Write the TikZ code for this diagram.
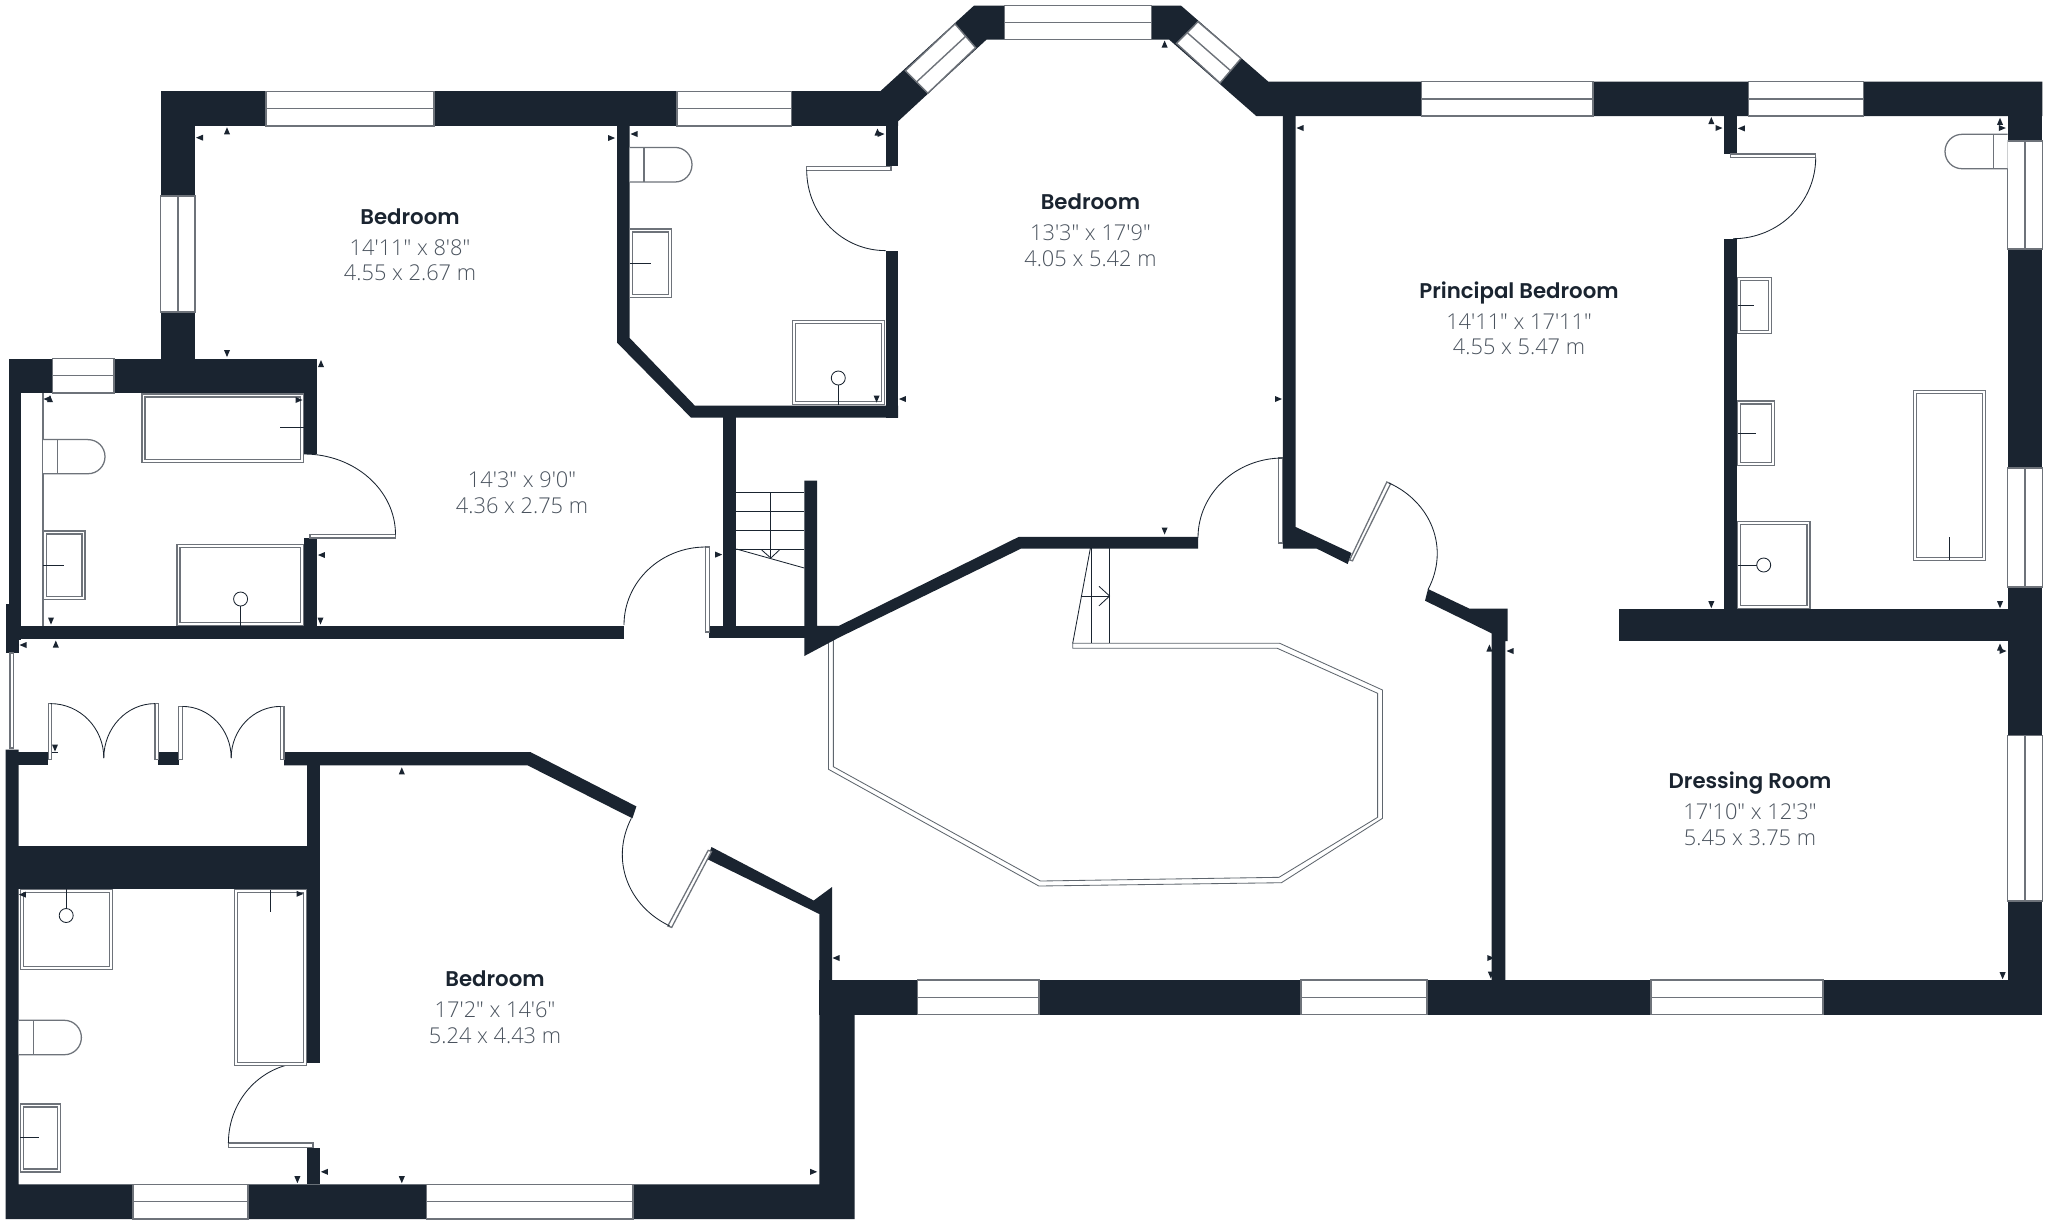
\documentclass[tikz,border=0pt]{standalone}
\usepackage{fontspec}
\newfontfamily\titlef{Poppins}[UprightFont=* SemiBold]
\newfontfamily\dimf{Open Sans}[UprightFont=* Light]
\definecolor{wallc}{HTML}{1A2430}
\definecolor{linec}{HTML}{6E737A}
\definecolor{textg}{HTML}{4A535E}
\tikzset{
  wall/.style={fill=wallc,draw=none},
  glass/.style={fill=white,draw=linec,line width=.4pt},
  glassline/.style={draw=linec,line width=.4pt},
  fixture/.style={fill=white,draw=linec,line width=.36pt},
  thin line/.style={draw=wallc,line width=.24pt},
  mark tri/.style={fill=wallc,draw=none},
  roomname/.style={anchor=base,inner sep=0pt,text=wallc,font=\titlef\fontsize{6.05pt}{7pt}\selectfont},
  roomdim/.style={anchor=base,inner sep=0pt,text=textg,font=\dimf\fontsize{6.2pt}{7pt}\selectfont}
}
% windows
\newcommand{\winh}[4]{\draw[glass] (#1,#2) rectangle (#3,#4); \draw[glassline] (#1,{(#2+#4)/2}) -- (#3,{(#2+#4)/2});}
\newcommand{\winv}[4]{\draw[glass] (#1,#2) rectangle (#3,#4); \draw[glassline] ({(#1+#3)/2},#2) -- ({(#1+#3)/2},#4);}
% double rectangle fixture
\newcommand{\fixt}[4]{\draw[fixture] (#1,#2) rectangle (#3,#4); \draw[fixture] ({#1+3},{#2+3}) rectangle ({#3-3},{#4-3});}
% quarter arc, leaves horizontally, arrives vertically
\newcommand{\qarc}[4]{\draw[thin line] (#1,#2) .. controls ({#1+0.5523*(#3-#1)},#2) and (#3,{#4-0.5523*(#4-#2)}) .. (#3,#4);}
% leaf
\newcommand{\leaf}[4]{\draw[fixture] (#1,#2) rectangle (#3,#4);}
% toilets
\newcommand{\toiletR}[4]{\draw[fixture] (#1,#2) -- ({#3-17},#2) .. controls ({#3-7.5},#2) and (#3,{(#2+#4)/2-9.5}) .. (#3,{(#2+#4)/2}) .. controls (#3,{(#2+#4)/2+9.5}) and ({#3-7.5},#4) .. ({#3-17},#4) -- (#1,#4);}
\newcommand{\toiletL}[4]{\draw[fixture] (#3,#2) -- ({#1+17},#2) .. controls ({#1+7.5},#2) and (#1,{(#2+#4)/2-9.5}) .. (#1,{(#2+#4)/2}) .. controls (#1,{(#2+#4)/2+9.5}) and ({#1+7.5},#4) .. ({#1+17},#4) -- (#3,#4);}
% triangles
\newcommand{\tl}[2]{\fill[mark tri,shift={(#1,#2)}] (3.5,-3) -- (-3.5,0) -- (3.5,3) -- cycle;}
\newcommand{\trr}[2]{\fill[mark tri,shift={(#1,#2)}] (-3.5,-3) -- (3.5,0) -- (-3.5,3) -- cycle;}
\newcommand{\tu}[2]{\fill[mark tri,shift={(#1,#2)}] (-3,3.5) -- (0,-3.5) -- (3,3.5) -- cycle;}
\newcommand{\td}[2]{\fill[mark tri,shift={(#1,#2)}] (-3,-3.5) -- (0,3.5) -- (3,-3.5) -- cycle;}
\begin{document}
\begin{tikzpicture}[x=0.01cm,y=-0.01cm]
\useasboundingbox (0,0) rectangle (2048,1220);
\fill[white] (0,0) rectangle (2048,1220);

% ---------- balustrade and stairs (under the walls)
\draw[thin line,draw=wallc!70] (828.5,640) -- (828.5,769.3) -- (1038.8,886) -- (1281.4,882.7) -- (1382.5,818.3) -- (1382.5,690) -- (1279.8,643.3) -- (1072.7,643.3) -- (1072.7,648.3) -- (1277.3,648.3) -- (1377.6,693.3) -- (1377.6,817.3) -- (1279,877.3) -- (1040.4,881) -- (833.4,766.7) -- (833.4,640);
\draw[thin line] (1090.4,548) -- (1072.7,643.3);
\draw[thin line] (1091.4,548) -- (1091.4,643.3);
\draw[thin line] (1109.6,548) -- (1109.6,643.3);
\draw[thin line] (1080.9,596) -- (1109.6,596);
\draw[thin line] (1099,586.3) -- (1109.6,596) -- (1099,605.8);
\foreach \yy in {492.2,511.3,530,549} \draw[thin line] (736.4,\yy) -- (804.3,\yy);
\draw[thin line] (770.8,492.2) -- (770.8,558);
\draw[thin line] (736.4,549) -- (804.3,568);
\draw[thin line] (761.7,550) -- (770.8,558) -- (779.4,550);

% ---------- walls
\fill[wall] (160.7,91.4) rectangle (885.6,125.8);
\fill[wall] (160.7,91.4) rectangle (195,370);
\fill[wall] (9,358.5) rectangle (317,393);
\fill[wall] (9,358.5) rectangle (21,640);
\fill[wall] (5.8,604) rectangle (18.5,653);
\fill[wall] (303.6,393) rectangle (317,454);
\fill[wall] (303.6,538) rectangle (317,638);
\fill[wall] (9,625.6) rectangle (624.3,638.6);
\fill[wall] (709,625.8) rectangle (817,638.3);
\fill[wall] (617,125) -- (629.7,125) -- (629.7,338) -- (694.7,405.5) -- (898,405.5) -- (898,417.6) -- (691,417.6) -- (617,342.6) -- cycle;
\fill[wall] (885.6,120) rectangle (898,166);
\fill[wall] (885.6,251) rectangle (898,417.6);
\fill[wall] (880,91.5) -- (974,5.6) -- (1181,5.6) -- (1268.4,81.7) -- (2042.3,81.7) -- (2042.3,116) -- (1256.5,116.2) -- (1169,39.5) -- (986.6,39.5) -- (898,121.4) -- (898,125.8) -- (880,125.8) -- cycle;
\fill[wall] (723.4,417) rectangle (736.4,630);
\fill[wall] (804.3,480.5) -- (817,480.5) -- (817,625.8) -- (839,625.8) -- (1018.7,536.9) -- (1198,536.9) -- (1198,548.6) -- (1021,548.6) -- (839,637.5) -- (804.3,656) -- cycle;
\fill[wall] (1282.8,116) -- (1295.7,116) -- (1295.7,527) -- (1351.5,553) -- (1347.7,564) -- (1316.7,548.6) -- (1282.8,548.6) -- cycle;
\fill[wall] (1428,589) -- (1469.4,608.6) -- (1507.5,608.6) -- (1507.5,641) -- (1505.4,641) -- (1505.4,985) -- (1491.6,985) -- (1491.6,633.3) -- (1425,600.7) -- cycle;
\fill[wall] (1724,116) rectangle (1737,154);
\fill[wall] (1724,238.7) rectangle (1737,609);
\fill[wall] (1618.6,608.6) rectangle (2007.6,641.4);
\fill[wall] (2007.6,81.7) rectangle (2042.3,1014.5);
\fill[wall] (819,980) rectangle (2042.3,1014.5);
\fill[wall] (711.5,847) -- (813.7,900.5) -- (832,887) -- (832,1014) -- (854.7,1014) -- (854.7,1219) -- (5.6,1219) -- (5.6,749.5) -- (18.5,749.5) -- (18.5,1184.4) -- (819.3,1184.4) -- (819.3,914) -- (707,859) -- cycle;
\fill[wall] (5.6,752) rectangle (48.3,765.3);
\fill[wall] (158.2,752) rectangle (178.5,765.3);
\fill[wall] (284,752) -- (530.3,752) -- (636.4,806.4) -- (632.4,818.3) -- (527.5,765.3) -- (284,765.3) -- cycle;
\fill[wall] (307,765) rectangle (320,1062.6);
\fill[wall] (5.6,846) rectangle (320,888.6);
\fill[wall] (307,1147.6) rectangle (320,1184.4);

% ---------- windows
\winh{266}{91.4}{434}{125.8}
\winh{677}{91.4}{791.4}{125.8}
\winv{160.7}{196}{195}{312}
\winh{52.7}{358.5}{114}{393}
\winh{1004.3}{5.6}{1151.7}{39.5}
\draw[glass] (905.3,70.7) -- (955,23.9) -- (975.6,47.7) -- (927.8,93.2) -- cycle;
\draw[glassline] (917,81.5) -- (966,36);
\draw[glass] (1198,21.7) -- (1241,58.5) -- (1220,83) -- (1176.5,43.4) -- cycle;
\draw[glassline] (1187.6,33) -- (1230.6,70.7);
\winh{1421.7}{81.7}{1593}{116}
\winh{1748.5}{81.7}{1863.4}{116}
\winv{2007.6}{141}{2042.3}{249}
\winv{2007.6}{468}{2042.3}{587}
\winv{2007.6}{735.7}{2042.3}{901}
\winh{917.5}{980}{1038.8}{1014.5}
\winh{1300.8}{980}{1427}{1014.5}
\winh{1651}{980}{1823}{1014.5}
\winh{133}{1184.4}{248}{1219}
\winh{426.5}{1184.4}{633}{1219}
\draw[glass] (10,653) rectangle (13.5,748);

% ---------- doors
\leaf{310}{534.5}{395.5}{538}
\qarc{304}{454}{395.5}{534.5}
\leaf{705.7}{547}{709.6}{632}
\qarc{705.7}{547}{624}{625}
\leaf{806.7}{166.5}{891}{170.4}
\qarc{885.6}{250.6}{806.7}{170}
\leaf{1278.5}{458}{1282.8}{543}
\qarc{1282.8}{458}{1198}{537.7}
\leaf{1730.3}{154}{1815.7}{157.6}
\qarc{1733}{238.7}{1815.7}{157.6}
\leaf{228.4}{1143}{313}{1147.6}
\qarc{306}{1062.6}{228.4}{1143}
\leaf{48.3}{703.6}{51.6}{759.4}
\leaf{155}{703.6}{158.8}{759.4}
\leaf{178.5}{706.4}{182.4}{759.4}
\leaf{280.6}{706.4}{284}{759.4}
\qarc{50.5}{703.6}{103.8}{758}
\qarc{155}{703.6}{103.8}{758}
\qarc{182.4}{706.4}{231.2}{758}
\qarc{280.6}{706.4}{231.2}{758}
\draw[fixture] (1386.8,482) -- (1390.6,483.7) -- (1352.5,560.8) -- (1349.6,560) -- cycle;
\draw[thin line] (1389,483) .. controls (1431,502) and (1450,548) .. (1428,589.6);
\draw[fixture] (708.2,850.3) -- (711.5,851.5) -- (671.7,927.4) -- (667.8,926) -- cycle;
\draw[thin line] (669.8,926) .. controls (628,906) and (610,860) .. (631.3,818.3);

% ---------- bathroom, upper left
\draw[glassline] (43,393) -- (43,625.6);
\toiletR{43}{439.6}{105}{473.7}
\draw[glassline] (57.6,439.6) -- (57.6,473.7);
\fixt{43.3}{531}{85}{599.6}
\draw[thin line] (43.3,565.5) -- (64,565.5);
\fixt{142}{394}{303.6}{462.6}
\draw[thin line] (280,427.8) -- (303.6,427.8);
\fixt{177}{544.5}{303.6}{625.6}
\draw[thin line] (240.6,599) circle (7);
\draw[thin line] (240.6,606) -- (240.6,625.6);

% ---------- bathroom, upper middle
\toiletR{629.7}{147.4}{692}{182}
\draw[glassline] (644,147.4) -- (644,182);
\fixt{629.7}{229}{671.8}{297.5}
\draw[thin line] (629.7,263) -- (650.7,263);
\fixt{792.8}{320.5}{884.7}{404.6}
\draw[thin line] (838.3,378) circle (7);
\draw[thin line] (838.3,385) -- (838.3,404.6);

% ---------- bathroom, upper right
\toiletL{1945}{134.3}{2007.5}{168.7}
\draw[glassline] (1993.2,134.3) -- (1993.2,168.7);
\fixt{1737.5}{277.4}{1771.4}{333.5}
\draw[thin line] (1737.5,305.8) -- (1754.2,305.8);
\fixt{1737.5}{401}{1774.7}{465.5}
\draw[thin line] (1737.5,433) -- (1755.6,433);
\fixt{1737.5}{521.7}{1810}{608.6}
\draw[thin line] (1763.7,565) circle (7);
\draw[thin line] (1737.5,565) -- (1756.7,565);
\fixt{1913.5}{390.4}{1985.6}{560.4}
\draw[thin line] (1949.3,537) -- (1949.3,560.4);

% ---------- bathroom, lower left
\fixt{20.2}{889.4}{112.2}{969.3}
\draw[thin line] (66.2,915.5) circle (7);
\draw[thin line] (66.2,889.4) -- (66.2,908.5);
\fixt{234.6}{889.8}{306.4}{1065.8}
\draw[thin line] (270.5,889.8) -- (270.5,912.4);
\toiletR{18.5}{1020.3}{81.4}{1054.7}
\draw[glassline] (33.7,1020.3) -- (33.7,1054.7);
\fixt{20.2}{1104}{60.6}{1172}
\draw[thin line] (20.2,1137.8) -- (39.3,1137.8);

% ---------- dimension marks
\tl{199.5}{137.7} \tu{227}{130.8} \trr{611.6}{138} \tl{634}{134} \td{227}{353.5}
\tu{321}{363.5} \tu{50}{398.7} \tl{47}{399} \trr{299}{400} \tl{321.4}{555} \td{320.5}{621}
\td{51}{621} \tu{55.8}{644} \tl{23}{645}
\tl{1300}{128} \tu{877.5}{132} \trr{881}{134} \td{876.6}{399} \tl{902.4}{399}
\trr{1278.5}{399} \trr{718.7}{554.6} \td{1164.6}{531} \tu{1164.6}{44}
\tu{1711.3}{120.5} \trr{1719}{128} \tl{1741.3}{128.4} \tu{2000}{121.3} \trr{2002.3}{128}
\td{1711.3}{604.7} \td{2000}{604.7} \tu{2000}{647} \trr{2003}{651} \tu{1489.4}{648} \tl{1510}{651}
\td{55}{748} \draw[thin line] (52,752.5) -- (58,752.5);
\tu{401.8}{770.8} \tl{22.4}{894.6} \trr{300}{893.8}
\tl{836}{958} \tl{324.4}{1171.8} \trr{813.7}{1171.8} \td{401.8}{1179.7} \td{297.4}{1179.7}
\trr{1490.8}{958} \td{1490.8}{975} \td{2002.6}{975.7}

% ---------- room labels
\node[roomname] (r1) at (410,224) {Bedroom};
\node[roomdim] (r1a) at (410,255) {14'11" x 8'8"};
\node[roomdim] (r1b) at (410,280) {4.55 x 2.67 m};
\node[roomdim] (r2a) at (522,487) {14'3" x 9'0"};
\node[roomdim] (r2b) at (522,513) {4.36 x 2.75 m};
\node[roomname] (r3) at (1090.4,209) {Bedroom};
\node[roomdim] (r3a) at (1090.4,240) {13'3" x 17'9"};
\node[roomdim] (r3b) at (1090.4,266) {4.05 x 5.42 m};
\node[roomname] (r4) at (1519,298) {Principal Bedroom};
\node[roomdim] (r4a) at (1519,329) {14'11" x 17'11"};
\node[roomdim] (r4b) at (1519,354) {4.55 x 5.47 m};
\node[roomname] (r5) at (495,986) {Bedroom};
\node[roomdim] (r5a) at (495,1017) {17'2" x 14'6"};
\node[roomdim] (r5b) at (495,1043) {5.24 x 4.43 m};
\node[roomname] (r6) at (1750,788) {Dressing Room};
\node[roomdim] (r6a) at (1750,819) {17'10" x 12'3"};
\node[roomdim] (r6b) at (1750,845) {5.45 x 3.75 m};
\end{tikzpicture}
\end{document}
